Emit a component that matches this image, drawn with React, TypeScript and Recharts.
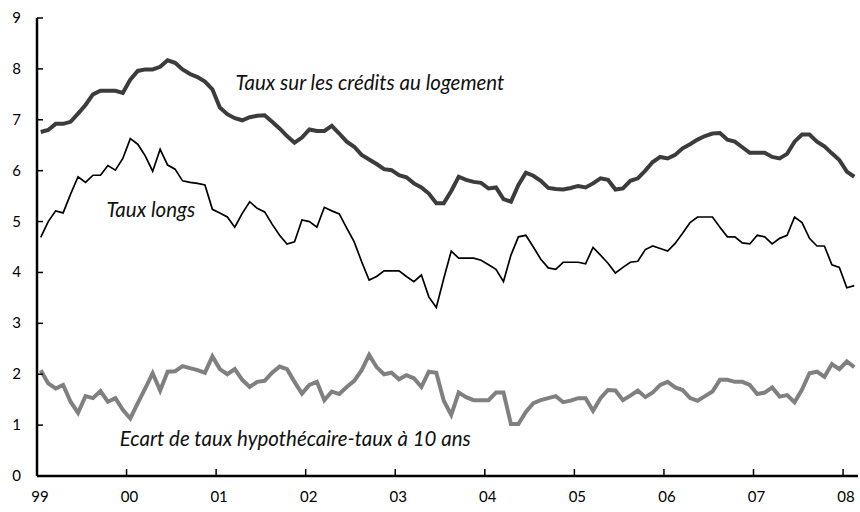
import { LineChart, Line, XAxis, YAxis, ReferenceDot } from 'recharts';

// monthly values, Jan 1999 .. Feb 2008
const credits = [
  6.76, 6.80, 6.92, 6.92, 6.96, 7.12, 7.29, 7.50, 7.57, 7.57, 7.57, 7.53,
  7.79, 7.96, 7.99, 7.99, 8.04, 8.17, 8.12, 7.99, 7.90, 7.84, 7.75, 7.60,
  7.24, 7.11, 7.03, 6.99, 7.05, 7.08, 7.09, 6.96, 6.83, 6.68, 6.55, 6.65,
  6.81, 6.78, 6.78, 6.88, 6.73, 6.57, 6.47, 6.31, 6.22, 6.13, 6.03, 6.01,
  5.91, 5.87, 5.75, 5.67, 5.55, 5.36, 5.36, 5.60, 5.88, 5.82, 5.78, 5.76,
  5.65, 5.67, 5.44, 5.39, 5.72, 5.96, 5.90, 5.80, 5.66, 5.64, 5.63, 5.66,
  5.70, 5.67, 5.75, 5.85, 5.82, 5.63, 5.65, 5.80, 5.85, 6.00, 6.17, 6.27,
  6.24, 6.31, 6.44, 6.52, 6.61, 6.68, 6.73, 6.74, 6.61, 6.57, 6.46, 6.35,
  6.35, 6.35, 6.27, 6.24, 6.33, 6.57, 6.71, 6.71, 6.57, 6.48, 6.34, 6.21,
  5.98, 5.88,
];

const longs = [
  4.69, 5.00, 5.21, 5.17, 5.54, 5.88, 5.77, 5.91, 5.91, 6.10, 6.01, 6.24,
  6.63, 6.52, 6.29, 5.99, 6.42, 6.11, 6.03, 5.80, 5.77, 5.75, 5.72, 5.24,
  5.17, 5.09, 4.89, 5.16, 5.39, 5.26, 5.19, 4.95, 4.73, 4.56, 4.60, 5.03,
  5.00, 4.89, 5.28, 5.21, 5.15, 4.87, 4.60, 4.21, 3.85, 3.92, 4.03, 4.03,
  4.03, 3.92, 3.82, 3.95, 3.52, 3.31, 3.88, 4.42, 4.28, 4.28, 4.28, 4.24,
  4.15, 4.06, 3.82, 4.34, 4.70, 4.73, 4.50, 4.26, 4.09, 4.06, 4.20, 4.20,
  4.20, 4.17, 4.49, 4.34, 4.18, 3.99, 4.10, 4.20, 4.22, 4.45, 4.52, 4.47,
  4.42, 4.57, 4.77, 4.98, 5.09, 5.09, 5.09, 4.89, 4.70, 4.70, 4.58, 4.56,
  4.73, 4.70, 4.56, 4.67, 4.73, 5.09, 4.98, 4.67, 4.52, 4.52, 4.15, 4.10,
  3.70, 3.74,
];

const ecart = [
  2.08, 1.82, 1.72, 1.79, 1.46, 1.24, 1.57, 1.53, 1.67, 1.46, 1.53, 1.30,
  1.13, 1.43, 1.72, 2.02, 1.68, 2.05, 2.06, 2.16, 2.12, 2.08, 2.03, 2.35,
  2.10, 2.00, 2.10, 1.89, 1.75, 1.85, 1.87, 2.03, 2.15, 2.10, 1.85, 1.62,
  1.79, 1.85, 1.49, 1.66, 1.61, 1.75, 1.87, 2.08, 2.38, 2.14, 2.00, 2.03,
  1.90, 1.98, 1.92, 1.75, 2.05, 2.03, 1.48, 1.20, 1.64, 1.55, 1.49, 1.49,
  1.49, 1.64, 1.64, 1.02, 1.02, 1.26, 1.43, 1.49, 1.53, 1.57, 1.45, 1.48,
  1.53, 1.53, 1.28, 1.53, 1.69, 1.68, 1.49, 1.58, 1.68, 1.55, 1.64, 1.79,
  1.85, 1.74, 1.69, 1.53, 1.48, 1.57, 1.66, 1.89, 1.89, 1.85, 1.85, 1.79,
  1.61, 1.64, 1.74, 1.56, 1.59, 1.45, 1.70, 2.02, 2.05, 1.95, 2.20, 2.10,
  2.25, 2.14,
];

const yearLabels = ['99', '00', '01', '02', '03', '04', '05', '06', '07', '08'];
const yTicks = [0, 1, 2, 3, 4, 5, 6, 7, 8, 9];

const seriesLabels = [
  { text: 'Taux sur les crédits au logement', x: 26.6, y: 7.58 },
  { text: 'Taux longs', x: 9.3, y: 5.09 },
  { text: 'Ecart de taux hypothécaire-taux à 10 ans', x: 11.1, y: 0.59 },
];

const data = credits.map((v, i) => ({ m: i + 0.5, credits: v, longs: longs[i], ecart: ecart[i] }));
const xTicks = yearLabels.map((_, k) => k * 12);

const FONT = 'Lato, "Open Sans", sans-serif';

const XTick = (props: any) => {
  const { x, y, payload } = props;
  return (
    <g>
      <line x1={x} x2={x} y1={y} y2={y - 7} stroke="#000" strokeWidth={1.5} />
      <text x={x + 3} y={y + 26} textAnchor="middle" fontSize={15} fontFamily={FONT} fill="#000">
        {yearLabels[Math.round(payload.value / 12)]}
      </text>
    </g>
  );
};

const YTick = (props: any) => {
  const { x, y, payload } = props;
  return (
    <g>
      <line x1={x} x2={x + 6} y1={y} y2={y} stroke="#000" strokeWidth={1.5} />
      <text x={x - 16} y={y + 5} textAnchor="end" fontSize={15} fontFamily={FONT} fill="#000">
        {payload.value}
      </text>
    </g>
  );
};

const labelShape = (text: string) => (p: any) => (
  <text x={p.cx} y={p.cy} fontSize={20.5} fontStyle="italic" fontFamily={FONT} fill="#111">
    {text}
  </text>
);

export default function App() {
  return (
    <div style={{ position: 'absolute', left: 0, top: 0, background: '#fff' }}>
      <LineChart width={860} height={512} data={data} margin={{ top: 18, right: 2, bottom: 6, left: 0 }}>
        <XAxis
          dataKey="m"
          type="number"
          domain={[0, 110]}
          ticks={xTicks}
          interval={0}
          height={30}
          tickSize={0}
          tickMargin={0}
          tickLine={false}
          axisLine={{ stroke: '#000', strokeWidth: 2.5 }}
          tick={<XTick />}
        />
        <XAxis
          xAxisId="top"
          orientation="top"
          dataKey="m"
          type="number"
          domain={[0, 110]}
          height={0}
          tick={false}
          tickLine={false}
          axisLine={{ stroke: '#000', strokeWidth: 1 }}
        />
        <YAxis
          domain={[0, 9]}
          ticks={yTicks}
          interval={0}
          width={37}
          tickSize={0}
          tickMargin={0}
          tickLine={false}
          axisLine={{ stroke: '#000', strokeWidth: 2.5 }}
          tick={<YTick />}
        />
        <YAxis
          yAxisId="right"
          orientation="right"
          domain={[0, 9]}
          width={0}
          tick={false}
          tickLine={false}
          axisLine={{ stroke: '#000', strokeWidth: 1 }}
        />
        <Line type="linear" dataKey="ecart" stroke="#808080" strokeWidth={4} dot={false} isAnimationActive={false} />
        <Line type="linear" dataKey="longs" stroke="#000" strokeWidth={1.7} dot={false} isAnimationActive={false} />
        <Line type="linear" dataKey="credits" stroke="#3c3c3c" strokeWidth={4} dot={false} isAnimationActive={false} />
        {seriesLabels.map((l) => (
          <ReferenceDot key={l.text} x={l.x} y={l.y} r={0} ifOverflow="visible" shape={labelShape(l.text)} />
        ))}
      </LineChart>
    </div>
  );
}
